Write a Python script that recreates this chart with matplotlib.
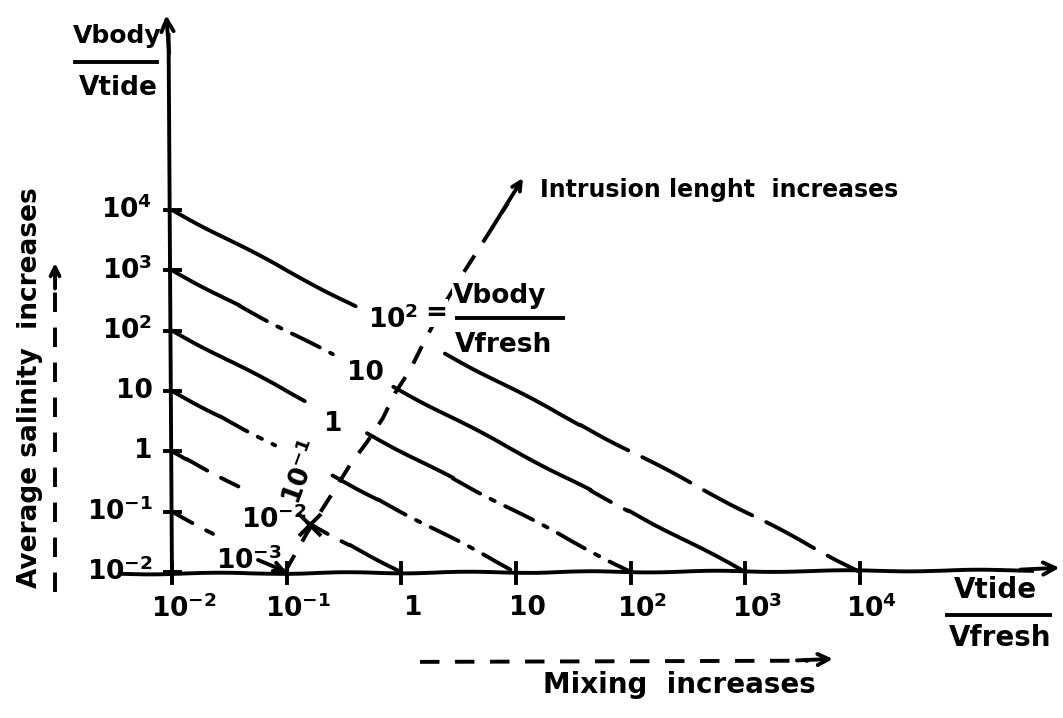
import matplotlib.pyplot as plt

plt.rcParams['font.weight'] = 'bold'
plt.rcParams['mathtext.default'] = 'bf'

# both axes are in log10 units (decades)
x_ticks = [-2, -1, 0, 1, 2, 3, 4]
x_tick_labels = [r'$10^{-2}$', r'$10^{-1}$', '1', '10', r'$10^{2}$', r'$10^{3}$', r'$10^{4}$']
y_ticks = [-2, -1, 0, 1, 2, 3, 4]
y_tick_labels = [r'$10^{-2}$', r'$10^{-1}$', '1', '10', r'$10^{2}$', r'$10^{3}$', r'$10^{4}$']

# Vbody/Vfresh = 10**e  ->  log(Vbody/Vtide) = e - log(Vtide/Vfresh)
ratio_exp = [2, 1, 0, -1, -2, -3]
ratio_labels = [r'$10^{2}$', '10', '1', r'$10^{-1}$', r'$10^{-2}$', r'$10^{-3}$']

# direction of increasing intrusion length
intr_x = [-1.015, -0.823, -0.622, -0.448, -0.299, -0.160, -0.055, 0.076,
          0.206, 0.381, 0.529, 0.669, 0.791, 0.930, 1.061]
intr_y = [-2.000, -1.354, -0.757, -0.226, 0.155, 0.553, 0.967, 1.348,
          1.846, 2.459, 2.923, 3.337, 3.702, 4.116, 4.531]

DASH = {'solid': None, 'dashed': (6, 4), 'dashdot': (8, 3, 1.2, 3), 'long': (14, 4)}

# pieces of each constant-ratio line: (x from, x to, style)
pieces = {
    2: [(-2.0, -0.40, 'solid'), (0.38, 1.56, 'solid'), (1.56, 4.0, 'long')],
    1: [(-2.0, -1.41, 'solid'), (-1.41, -0.60, 'dashdot'), (-0.07, 1.65, 'solid'),
        (1.65, 1.98, 'dashed'), (1.98, 3.0, 'solid')],
    0: [(-2.0, -0.84, 'solid'), (-0.30, 0.45, 'solid'), (0.45, 2.0, 'dashdot')],
    -1: [(-2.0, -1.58, 'solid'), (-1.58, -1.10, 'dashdot'), (-0.60, -0.20, 'solid'),
         (-0.20, 1.0, 'dashdot')],
    -2: [(-2.0, -1.87, 'solid'), (-1.87, -1.42, 'dashed'), (-0.82, -0.45, 'dashed'),
         (-0.45, 0.0, 'solid')],
    -3: [(-2.0, -1.64, 'dashed')],
}
label_pos = {2: (-0.073, 2.177), 1: (-0.317, 1.299), 0: (-0.596, 0.453),
             -1: (-0.858, -0.359), -2: (-1.11, -1.138), -3: (-1.329, -1.818)}

LW = 2.8
FS = 19
sketch = (0.7, 140, 2)
blank = dict(fc='white', ec='none', pad=0.5)

fig = plt.figure(figsize=(10.63, 7.18), dpi=100)
ax = fig.add_axes([0, 0, 1, 1])
ax.set_xlim(-3.50, 5.77)
ax.set_ylim(-4.42, 7.481)
ax.axis('off')


def seg(x0, x1, e, style):
    ln, = ax.plot([x0, x1], [e - x0, e - x1], color='k', lw=LW, solid_capstyle='round',
                  dash_capstyle='round')
    if DASH[style] is not None:
        ln.set_dashes(DASH[style])
    ln.set_sketch_params(*sketch)


def arrow(tail, head, ms=22):
    ax.annotate('', xy=head, xytext=tail,
                arrowprops=dict(arrowstyle='->', lw=LW, color='k', mutation_scale=ms,
                                shrinkA=0, shrinkB=0))


# axes
ax.plot([-2.0, -2.03], [-2.17, 6.9], color='k', lw=LW)
arrow((-2.025, 6.6), (-2.05, 7.23))
ln, = ax.plot([-2.45, 5.5], [-2.03, -1.97], color='k', lw=LW)
ln.set_sketch_params(*sketch)
arrow((5.4, -1.96), (5.74, -1.93))

for t, lab in zip(x_ticks, x_tick_labels):
    ax.plot([t, t], [-1.85, -2.18], color='k', lw=LW)
    ax.text(t + 0.1, -2.38, lab, fontsize=FS, ha='center', va='top')
for t, lab in zip(y_ticks, y_tick_labels):
    ax.plot([-2.06, -1.93], [t, t], color='k', lw=LW)
    ax.text(-2.17, t, lab, fontsize=FS, ha='right', va='center')

# constant Vbody/Vfresh lines
for e, lab in zip(ratio_exp, ratio_labels):
    for x0, x1, st in pieces[e]:
        seg(x0, x1, e, st)
    lx, ly = label_pos[e]
    rot = 70 if e == -1 else 0
    ax.text(lx, ly, lab, fontsize=FS, ha='center', va='center', rotation=rot,
            bbox=blank if e == 2 else None)

arrow((-1.25, -1.80), (-1.0, -2.0), ms=16)
ax.plot([-0.80], [-1.22], marker='x', color='k', ms=16, mew=2.8)

ax.text(0.302, 2.293, '=', fontsize=FS, ha='center', va='center', bbox=blank)
ax.text(0.860, 2.575, 'Vbody', fontsize=FS, ha='center', va='center', bbox=blank)
ax.plot([0.485, 1.41], [2.205, 2.205], color='k', lw=LW, zorder=4)
ax.text(0.887, 1.763, 'Vfresh', fontsize=FS, ha='center', va='center')

# intrusion length direction
ln, = ax.plot(intr_x[:-1], intr_y[:-1], color='k', lw=LW)
ln.set_dashes((5, 4))
arrow((intr_x[-3], intr_y[-3]), (intr_x[-1], intr_y[-1]), ms=16)
ax.text(1.209, 4.33, 'Intrusion lenght  increases', fontsize=17, ha='left', va='center')

# axis titles
ax.text(-2.48, 6.884, 'Vbody', fontsize=18, ha='center', va='center')
ax.plot([-2.846, -2.131], [6.453, 6.453], color='k', lw=LW)
ax.text(-2.471, 6.023, 'Vtide', fontsize=19, ha='center', va='center')

ax.text(5.177, -2.298, 'Vtide', fontsize=20, ha='center', va='center')
ax.plot([4.759, 5.657], [-2.713, -2.713], color='k', lw=LW)
ax.text(5.221, -3.094, 'Vfresh', fontsize=20, ha='center', va='center')

# side notes with dashed arrows
ax.text(-3.238, 1.05, 'Average salinity  increases', fontsize=19, rotation=90,
        ha='center', va='center')
ln, = ax.plot([-3.02, -3.02], [-2.33, 2.9], color='k', lw=LW)
ln.set_dashes((5, 4))
arrow((-3.02, 2.7), (-3.02, 3.122), ms=16)

ax.text(1.235, -3.873, 'Mixing  increases', fontsize=20, ha='left', va='center')
ln, = ax.plot([0.163, 3.55], [-3.49, -3.47], color='k', lw=LW)
ln.set_dashes((5, 4))
arrow((3.45, -3.465), (3.764, -3.44), ms=20)

fig.savefig('out.png', dpi=100)
